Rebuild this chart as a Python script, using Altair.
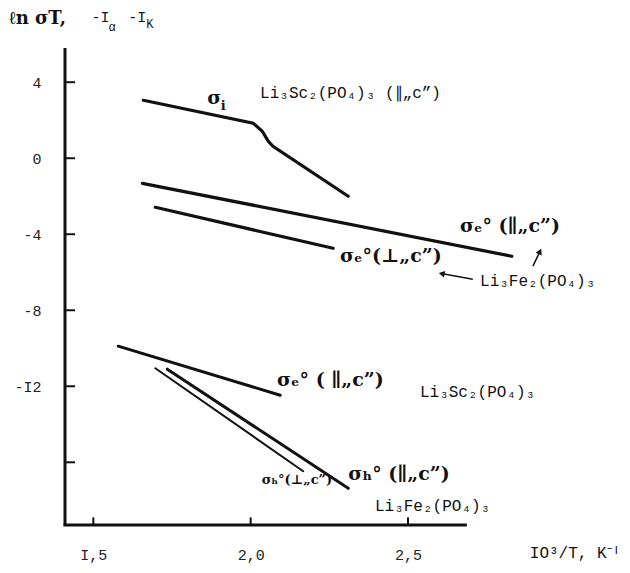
import altair as alt
import pandas as pd

# ---- data ----
si_x = [1.659, 2.008, 2.037, 2.056, 2.071, 2.31]
si_y = [3.05, 1.84, 1.42, 0.89, 0.63, -2.0]
fe_par_x = [1.656, 2.83]
fe_par_y = [-1.32, -5.16]
fe_perp_x = [1.697, 2.262]
fe_perp_y = [-2.58, -4.74]
sc_e_x = [1.579, 2.094]
sc_e_y = [-9.89, -12.47]
h_perp_x = [1.697, 2.167]
h_perp_y = [-11.05, -16.47]
h_par_x = [1.735, 2.31]
h_par_y = [-11.1, -17.37]

x_ticks = [1.5, 2.0, 2.5]
y_ticks = [4, 0, -4, -8, -12]
y_ticks_all = [4, 0, -4, -8, -12, -16]

XMIN, XMAX = 1.41, 2.84
YMIN, YMAX = -19.3, 5.8

rows = []
def add(name, xs, ys, w):
    for i, (a, b) in enumerate(zip(xs, ys)):
        rows.append({"x": a, "y": b, "s": name, "o": i, "w": w})
add("si", si_x, si_y, 3.2)
add("fe_par", fe_par_x, fe_par_y, 3.2)
add("fe_perp", fe_perp_x, fe_perp_y, 3.2)
add("sc_e", sc_e_x, sc_e_y, 3.0)
add("h_perp", h_perp_x, h_perp_y, 2.0)
add("h_par", h_par_x, h_par_y, 3.0)
df = pd.DataFrame(rows)

xs = alt.Scale(domain=[XMIN, XMAX], nice=False, zero=False)
ys = alt.Scale(domain=[YMIN, YMAX], nice=False, zero=False)

MONO = "Liberation Mono"
HAND = "DejaVu Serif"

base_x = alt.X("x:Q", scale=xs, axis=alt.Axis(
    values=x_ticks, domain=False, ticks=False, grid=False, title=None,
    labelFont=MONO, labelFontSize=15, labelColor="#222", labelPadding=22,
    labelExpr="replace(replace(format(datum.value, '.1f'), '.', ','), '1', 'I')"))
base_y = alt.Y("y:Q", scale=ys, axis=alt.Axis(
    values=y_ticks, domain=False, ticks=False, grid=False, title=None,
    labelFont=MONO, labelFontSize=15, labelColor="#222", labelPadding=24,
    labelExpr="datum.value == -12 ? '-I2' : (datum.value < 0 ? '-' + abs(datum.value) : '' + datum.value)"))

lines = alt.Chart(df).mark_line(color="#111", strokeCap="round").encode(
    x=base_x, y=base_y, detail="s:N", order="o:Q",
    strokeWidth=alt.StrokeWidth("w:Q", scale=None))

# axis lines
axes_df = pd.DataFrame([
    {"x": 1.405, "x2": 2.687, "y": YMIN, "y2": YMIN},
    {"x": XMIN, "x2": XMIN, "y": YMIN, "y2": YMAX},
])
axis_lines = alt.Chart(axes_df).mark_rule(color="#111", strokeWidth=3).encode(
    x=alt.X("x:Q", scale=xs), x2="x2:Q", y=alt.Y("y:Q", scale=ys), y2="y2:Q")

xt = pd.DataFrame({"x": x_ticks, "y": [YMIN] * 3, "y2": [YMIN + 0.4] * 3})
x_tick_marks = alt.Chart(xt).mark_rule(color="#111", strokeWidth=2).encode(
    x=alt.X("x:Q", scale=xs), y=alt.Y("y:Q", scale=ys), y2="y2:Q")
yt = pd.DataFrame({"y": y_ticks_all, "x": [XMIN] * 6, "x2": [XMIN + 0.032] * 6})
y_tick_marks = alt.Chart(yt).mark_rule(color="#111", strokeWidth=2).encode(
    y=alt.Y("y:Q", scale=ys), x=alt.X("x:Q", scale=xs), x2="x2:Q")

# annotations
def txt(data, size, font, weight="normal"):
    return alt.Chart(pd.DataFrame(data)).mark_text(
        align="left", baseline="middle", font=font, fontSize=size,
        fontWeight=weight, color="#111").encode(
        x=alt.X("x:Q", scale=xs), y=alt.Y("y:Q", scale=ys), text="t:N")

formula = txt([
    {"x": 2.03, "y": 3.42, "t": "Li₃Sc₂(PO₄)₃ (∥„c”)"},
    {"x": 2.729, "y": -6.45, "t": "Li₃Fe₂(PO₄)₃"},
    {"x": 2.538, "y": -12.3, "t": "Li₃Sc₂(PO₄)₃"},
    {"x": 2.395, "y": -18.3, "t": "Li₃Fe₂(PO₄)₃"},
    {"x": 2.887, "y": -20.75, "t": "IO³/T, K⁻ᴵ"},
], 16, MONO)
heading_i = txt([
    {"x": 1.494, "y": 7.42, "t": "-I"},
    {"x": 1.611, "y": 7.42, "t": "-I"},
], 15, MONO)
subs = txt([
    {"x": 1.548, "y": 6.9, "t": "α"},
    {"x": 1.668, "y": 7.05, "t": "K"},
], 12, MONO)
sigmas = txt([
    {"x": 1.862, "y": 3.15, "t": "σ"},
    {"x": 2.665, "y": -3.55, "t": "σₑ° (∥„c”)"},
    {"x": 2.284, "y": -5.15, "t": "σₑ°(⊥„c”)"},
    {"x": 2.084, "y": -11.65, "t": "σₑ° ( ∥„c”)"},
    {"x": 2.31, "y": -16.6, "t": "σₕ° (∥„c”)"},
], 19, HAND, "bold")
sub_i = txt([
    {"x": 1.905, "y": 2.75, "t": "i"},
], 13, HAND, "bold")
small_sigma = txt([
    {"x": 2.035, "y": -16.95, "t": "σₕ°(⊥„c”)"},
], 13, HAND, "bold")
heading = txt([
    {"x": 1.232, "y": 7.32, "t": "ℓn σT,"},
], 18, HAND, "bold")

# arrows
arr = pd.DataFrame([
    {"x": 2.897, "y": -5.68, "x2": 2.918, "y2": -4.95, "a": 25},
    {"x": 2.706, "y": -6.37, "x2": 2.61, "y2": -6.08, "a": 283},
])
arrow_lines = alt.Chart(arr).mark_rule(color="#111", strokeWidth=1.5).encode(
    x=alt.X("x:Q", scale=xs), y=alt.Y("y:Q", scale=ys), x2="x2:Q", y2="y2:Q")
arrow_heads = alt.Chart(arr).mark_point(shape="triangle", filled=True, size=45,
                                        color="#111", opacity=1).encode(
    x=alt.X("x2:Q", scale=xs), y=alt.Y("y2:Q", scale=ys),
    angle=alt.Angle("a:Q", scale=None))

chart = alt.layer(
    axis_lines, x_tick_marks, y_tick_marks, lines,
    formula, heading_i, subs, sigmas, sub_i, small_sigma, heading,
    arrow_lines, arrow_heads
).properties(
    width=450, height=477,
    autosize=alt.AutoSizeParams(type="none"),
    padding={"left": 57, "top": 40, "right": 107, "bottom": 40},
    background="white",
).configure_view(stroke=None)

chart.save("out.html", embed_options={"renderer": "svg", "actions": False})
